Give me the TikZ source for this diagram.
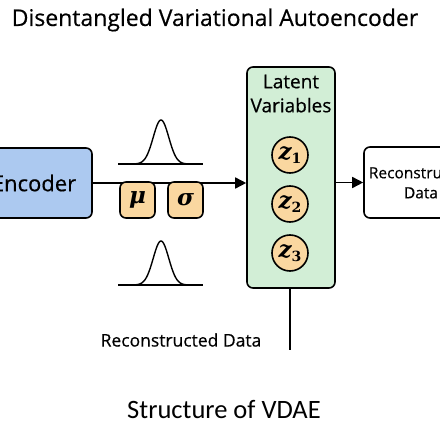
\documentclass[tikz,border=0pt]{standalone}
\usepackage{amsmath}
\usepackage{fontspec}
\setsansfont{Open Sans}[BoldFont={Open Sans},BoldFeatures={FakeBold=0.45}]
\newfontfamily\capfont{Carlito}
\newfontfamily\symfont{DejaVu Serif}
\usetikzlibrary{arrows.meta,positioning}
\definecolor{encblue}{RGB}{172,201,240}
\definecolor{latgreen}{RGB}{210,238,214}
\definecolor{parorange}{RGB}{250,215,160}
% latent symbol z_i, italic serif in text mode
\newcommand\zvar[1]{{\symfont\itshape\fontsize{23}{23}\selectfont z\raisebox{-4pt}{\upshape\fontsize{14}{14}\selectfont #1}}}
\newcommand\parsym[1]{\raisebox{-3pt}{\symfont\bfseries\itshape\fontsize{23}{23}\selectfont #1}}

\tikzset{
  box/.style={draw,line width=1.6pt,rounded corners=6pt,inner sep=0pt},
  parbox/.style={box,fill=parorange,minimum width=35pt,minimum height=36pt},
  zc/.style={circle,draw,line width=1.6pt,fill=parorange,minimum size=36pt,inner sep=0pt}
}

\begin{document}
\begin{tikzpicture}[x=1pt,y=-1pt,>={Triangle[length=11pt,width=11pt]},font=\sffamily\bfseries]
  \useasboundingbox (0,0) rectangle (440,425);
  \clip (0,0) rectangle (440,425);
  % title
  \node[font=\sffamily\bfseries\fontsize{23}{26}\selectfont] (title) at (215,20) {Disentangled Variational Autoencoder};
  % encoder, cut by the left edge
  \node[box,fill=encblue,minimum width=110pt,minimum height=70pt,font=\sffamily\bfseries\fontsize{22}{24}\selectfont] (enc) at (37,183) {\hspace*{-6pt}Encoder};
  % latent variables
  \node[box,fill=latgreen,minimum width=88pt,minimum height=221pt] (latent) at (291,177.5) {};
  \node[align=center,below=5pt of latent.north,font=\sffamily\bfseries\fontsize{19}{24}\selectfont] (lattext) {Latent\\Variables};
  \node[zc] (z1) at (290,155) {\zvar{1}};
  \node[zc] (z2) at (290,204) {\zvar{2}};
  \node[zc] (z3) at (290,253) {\zvar{3}};
  % output, cut by the right edge
  \node[box,fill=white,minimum width=114pt,minimum height=71pt,align=center,font=\sffamily\bfseries\fontsize{15.5}{20}\selectfont] (rec) at (421,182.5) {Reconstructed\\Data};
  % arrows
  \draw[line width=1.6pt,->] (enc.east) -- (enc.east -| latent.west);
  \draw[line width=1.6pt,->] (latent.east |- rec.west) -- (rec.west);
  % mu and sigma
  \node[parbox] (mu) at (137.5,200) {\parsym{μ}};
  \node[parbox] (sigma) at (185.5,200) {\parsym{σ}};
  % gaussians
  \draw[line width=1.4pt] (118,164) -- (203,164);
  \draw[line width=1.4pt] plot[domain=-26:26,samples=60,smooth] ({161+\x},{164-44*exp(-(\x/11)^2)});
  \draw[line width=1.4pt] (118,285) -- (203,285);
  \draw[line width=1.4pt] plot[domain=-26:26,samples=60,smooth] ({161+\x},{285-44*exp(-(\x/11)^2)});
  % line down
  \coordinate (tail) at (290,350);
  \draw[line width=1.6pt] (latent.south -| tail) -- (tail);
  \node[font=\sffamily\bfseries\fontsize{17.5}{20}\selectfont] (reclabel) at (181,340) {Reconstructed Data};
  % caption
  \node[font=\capfont\fontsize{26.5}{30}\selectfont] (caption) at (224,410) {Structure of VDAE};
\end{tikzpicture}
\end{document}
